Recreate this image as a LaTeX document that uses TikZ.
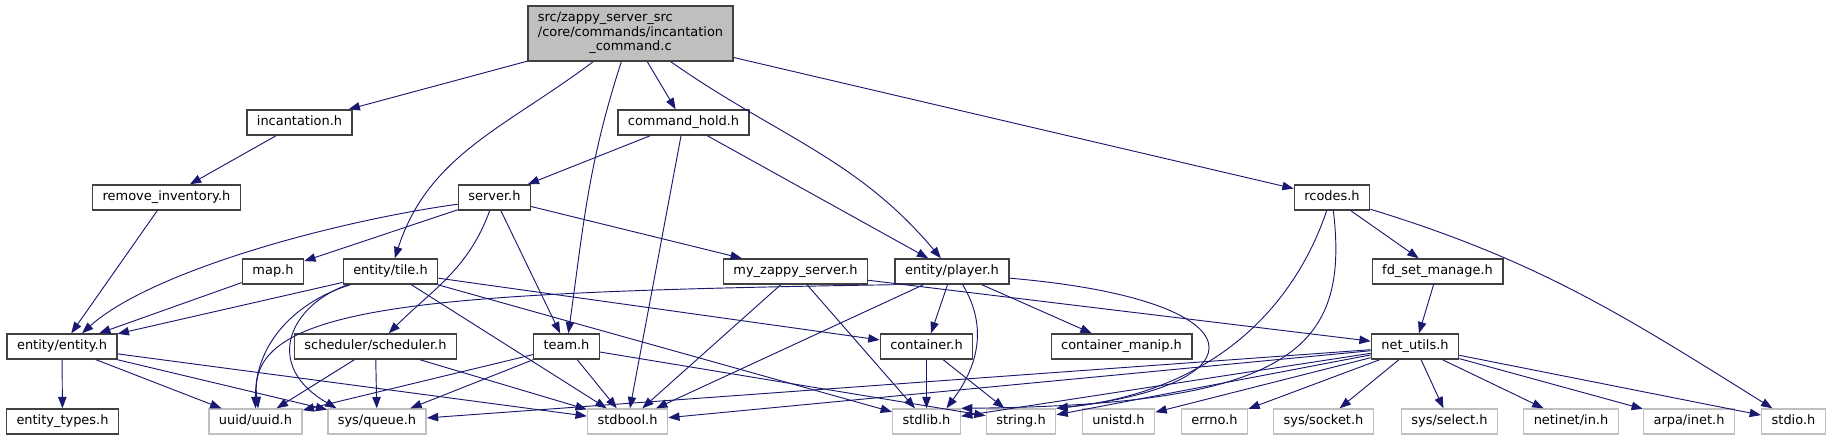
\documentclass[tikz,border=0pt]{standalone}
\usepackage{fontspec}
\setmainfont{DejaVu Sans}
\usetikzlibrary{arrows.meta}
\definecolor{edgeblue}{RGB}{25,25,112}
\definecolor{grey25}{RGB}{64,64,64}
\definecolor{grey75}{RGB}{191,191,191}
\tikzset{
  hdr/.style={draw=grey25, fill=white, line width=1.05pt, minimum height=18.75pt, inner xsep=7.5pt, inner ysep=0pt, text height=7.2pt, text depth=2.2pt, font=\fontsize{9.7}{11}\selectfont},
  syshdr/.style={hdr, draw=grey75},
  srcfile/.style={draw=grey25, fill=grey75, line width=1.05pt, minimum height=41.25pt, inner xsep=7.5pt, inner ysep=0pt, font=\fontsize{9.7}{10.9}\selectfont},
  dep/.style={draw=edgeblue, line width=0.7pt, -{Triangle[length=8.5pt,width=6.3pt]}}
}
\begin{document}
\begin{tikzpicture}[x=0.75pt, y=-0.75pt]
\useasboundingbox (0,0) rectangle (1832,440);
% files
\node[srcfile] (main) at (630.5,33.5) {\begin{tabular}{@{}l@{}}src/zappy\_server\_src\\/core/commands/incantation\\\multicolumn{1}{@{}c@{}}{\_command.c}\end{tabular}};
\node[hdr] (incant) at (299.5,122.5) {incantation.h};
\node[hdr] (cmdhold) at (683.5,122.5) {command\_hold.h};
\node[hdr] (reminv) at (166.5,197.5) {remove\_inventory.h};
\node[hdr] (server) at (494.5,197.5) {server.h};
\node[hdr] (rcodes) at (1332,197.5) {rcodes.h};
\node[hdr] (map) at (273,271.5) {map.h};
\node[hdr] (tile) at (390.5,271.5) {entity/tile.h};
\node[hdr] (myzappy) at (795.5,271.5) {my\_zappy\_server.h};
\node[hdr] (player) at (952,271.5) {entity/player.h};
\node[hdr] (fdset) at (1437.5,271.5) {fd\_set\_manage.h};
\node[hdr] (entity) at (62,346.5) {entity/entity.h};
\node[hdr] (sched) at (375.5,346.5) {scheduler/scheduler.h};
\node[hdr] (team) at (566.5,346.5) {team.h};
\node[hdr] (container) at (926.5,346.5) {container.h};
\node[hdr] (cmanip) at (1121.5,346.5) {container\_manip.h};
\node[hdr] (netutils) at (1415,346.5) {net\_utils.h};
\node[hdr] (etypes) at (62.5,421.5) {entity\_types.h};
\node[syshdr] (uuid) at (255.5,421.5) {uuid/uuid.h};
\node[syshdr] (queue) at (377,421.5) {sys/queue.h};
\node[syshdr] (stdbool) at (627.5,421.5) {stdbool.h};
\node[syshdr] (stdlib) at (926.5,421.5) {stdlib.h};
\node[syshdr] (string) at (1021,421.5) {string.h};
\node[syshdr] (unistd) at (1118.5,421.5) {unistd.h};
\node[syshdr] (errno) at (1214.5,421.5) {errno.h};
\node[syshdr] (socket) at (1323.5,421.5) {sys/socket.h};
\node[syshdr] (select) at (1449.5,421.5) {sys/select.h};
\node[syshdr] (netin) at (1571,421.5) {netinet/in.h};
\node[syshdr] (inet) at (1689,421.5) {arpa/inet.h};
\node[syshdr] (stdio) at (1793.5,421.5) {stdio.h};
% includes
\draw[dep] (main) -- (incant);
\draw[dep] (main) to[out=-143,in=72] (tile);
\draw[dep] (main) to[out=-108,in=82] (team);
\draw[dep] (main) -- (cmdhold);
\draw[dep] (main) to[out=-35,in=130] (player);
\draw[dep] (main) -- (rcodes);
\draw[dep] (incant) -- (reminv);
\draw[dep] (reminv) -- (entity);
\draw[dep] (cmdhold) -- (server);
\draw[dep] (cmdhold) -- (stdbool);
\draw[dep] (cmdhold) -- (player);
\draw[dep] ([yshift=-5pt]server.west) .. controls (330,222) and (150,272) .. ([xshift=15pt]entity.north);
\draw[dep] (server) -- (map);
\draw[dep] (server) to[out=-110,in=45] (sched);
\draw[dep] (server) -- (team);
\draw[dep] (server) -- (myzappy);
\draw[dep] (map) -- (entity);
\draw[dep] (tile) -- (entity);
\draw[dep] ([xshift=6pt]tile.south west) .. controls (300,300) and (255,340) .. (uuid.north);
\draw[dep] ([xshift=4pt]tile.south west) .. controls (290,305) and (262,365) .. ([xshift=7pt]queue.north west);
\draw[dep] (tile) -- (stdbool);
\draw[dep] (tile) -- (container);
\draw[dep] (tile) -- (stdlib);
\draw[dep] (entity) -- (etypes);
\draw[dep] (entity) -- (uuid);
\draw[dep] (entity) -- (queue);
\draw[dep] (entity) -- (stdbool);
\draw[dep] (sched) -- (uuid);
\draw[dep] (sched) -- (queue);
\draw[dep] (sched) -- (stdbool);
\draw[dep] (team) -- (uuid);
\draw[dep] (team) -- (queue);
\draw[dep] (team) -- (stdbool);
\draw[dep] (team) -- (string);
\draw[dep] (myzappy) -- (stdbool);
\draw[dep] (myzappy) -- (stdlib);
\draw[dep] (myzappy) -- (netutils);
\draw[dep] (player.south west) .. controls (420,292) and (245,305) .. ([xshift=2pt]uuid.north);
\draw[dep] (player) -- (stdbool);
\draw[dep] (player) -- (container);
\draw[dep] ([xshift=8pt]player.south) .. controls (990,330) and (975,370) .. ([xshift=15pt]stdlib.north);
\draw[dep] (player) -- (cmanip);
\draw[dep] ([yshift=-5pt]player.east) .. controls (1265,300) and (1265,385) .. (string.north east);
\draw[dep] (container) -- (stdlib);
\draw[dep] (container) -- (string);
\draw[dep] (rcodes) -- (fdset);
\draw[dep] (rcodes) to[out=-17,in=148] (stdio);
\draw[dep] ([xshift=-4pt]rcodes.south) .. controls (1300,290) and (1230,390) .. (string.north east);
\draw[dep] ([xshift=1pt]rcodes.south) .. controls (1350,350) and (1290,405) .. (stdlib.north east);
\draw[dep] (fdset) -- (netutils);
\draw[dep] (netutils) -- (queue);
\draw[dep] (netutils) -- (stdbool);
\draw[dep] (netutils) -- (stdlib);
\draw[dep] (netutils) -- (string);
\draw[dep] (netutils) -- (unistd);
\draw[dep] (netutils) -- (errno);
\draw[dep] (netutils) -- (socket);
\draw[dep] (netutils) -- (select);
\draw[dep] (netutils) -- (netin);
\draw[dep] (netutils) -- (inet);
\draw[dep] (netutils) -- (stdio);
\end{tikzpicture}
\end{document}
